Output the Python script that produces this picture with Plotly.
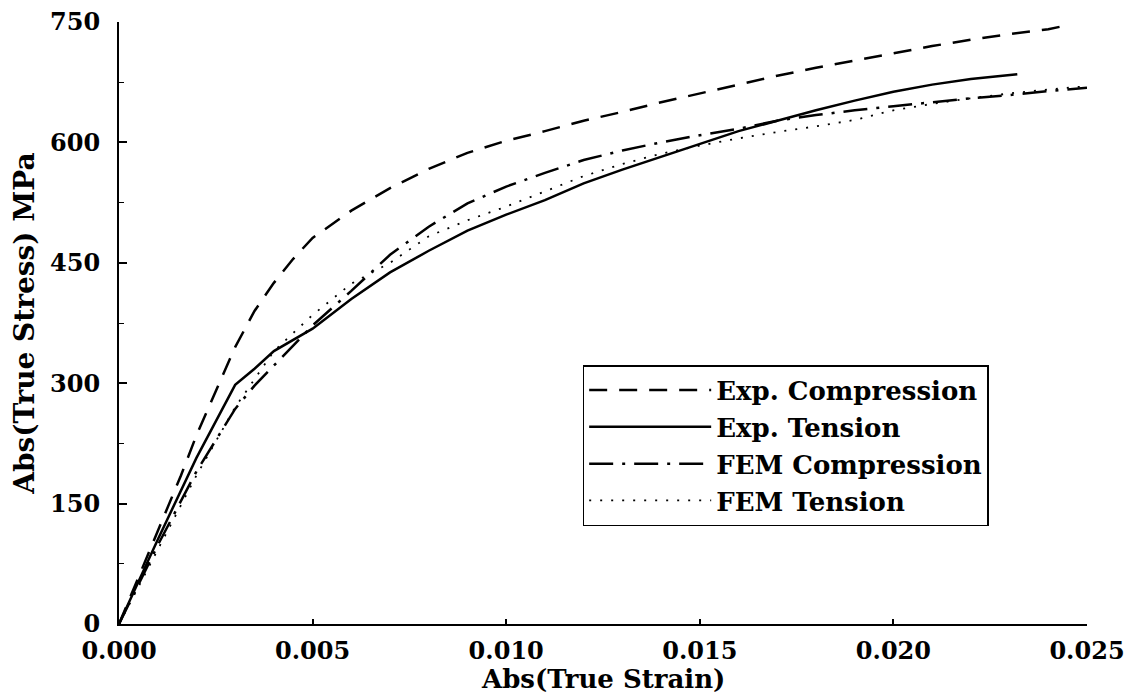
import plotly.graph_objects as go

# Exp. Compression
ec_strain = [0, 0.001, 0.0016, 0.002, 0.0025, 0.003, 0.0035, 0.004, 0.0045, 0.005, 0.006, 0.007, 0.008,
             0.009, 0.010, 0.011, 0.012, 0.013, 0.014, 0.015, 0.016, 0.017, 0.018, 0.019, 0.020,
             0.021, 0.022, 0.023, 0.024, 0.0243]
ec_stress = [0, 115, 185, 235, 290, 345, 390, 425, 455, 481, 515, 543, 567,
             587, 602, 614, 627, 638, 650, 661, 672, 683, 693, 702, 711,
             720, 728, 735, 741, 744]

# Exp. Tension
et_strain = [0, 0.001, 0.002, 0.003, 0.0035, 0.004, 0.005, 0.006, 0.007, 0.008, 0.009, 0.010,
             0.011, 0.012, 0.013, 0.014, 0.015, 0.016, 0.017, 0.018, 0.019, 0.020, 0.021, 0.022, 0.0232]
et_stress = [0, 105, 207, 298, 318, 340, 368, 405, 438, 465, 490, 510,
             528, 549, 566, 582, 598, 614, 627, 640, 652, 663, 672, 679, 685]

# FEM Compression
fc_strain = [0, 0.001, 0.002, 0.003, 0.0035, 0.004, 0.005, 0.006, 0.007, 0.008, 0.009, 0.010,
             0.011, 0.012, 0.013, 0.014, 0.015, 0.016, 0.017, 0.018, 0.019, 0.020, 0.021, 0.022,
             0.023, 0.024, 0.025]
fc_stress = [0, 98, 190, 268, 297, 322, 372, 415, 460, 495, 524, 545,
             562, 578, 590, 600, 609, 617, 627, 634, 640, 645, 650, 655,
             659, 664, 668]

# FEM Tension
ft_strain = [0, 0.001, 0.002, 0.003, 0.004, 0.005, 0.006, 0.007, 0.008, 0.009, 0.010,
             0.011, 0.012, 0.013, 0.014, 0.015, 0.016, 0.017, 0.018, 0.019, 0.020, 0.021, 0.022,
             0.023, 0.024, 0.025]
ft_stress = [0, 92, 185, 270, 340, 385, 424, 450, 483, 503, 520,
             539, 558, 573, 586, 596, 605, 613, 620, 628, 640, 648, 655,
             661, 666, 670]

x_ticks = [0.000, 0.005, 0.010, 0.015, 0.020, 0.025]
x_ticklabels = ["0.000", "0.005", "0.010", "0.015", "0.020", "0.025"]
y_ticks = [0, 150, 300, 450, 600, 750]
y_ticklabels = ["0", "150", "300", "450", "600", "750"]
y_minor_ticks = [75, 225, 375, 525, 675]
x_title = "Abs(True Strain)"
y_title = "Abs(True Stress) MPa"

FONT = "DejaVu Serif"

fig = go.Figure()
fig.add_trace(go.Scatter(x=ec_strain, y=ec_stress, mode="lines", name="Exp. Compression",
                         line=dict(color="black", width=2.5, dash="18px,12px")))
fig.add_trace(go.Scatter(x=et_strain, y=et_stress, mode="lines", name="Exp. Tension",
                         line=dict(color="black", width=2.5)))
fig.add_trace(go.Scatter(x=fc_strain, y=fc_stress, mode="lines", name="FEM Compression",
                         line=dict(color="black", width=2.5, dash="24px,9px,3px,9px")))
fig.add_trace(go.Scatter(x=ft_strain, y=ft_stress, mode="lines", name="FEM Tension",
                         line=dict(color="black", width=1.8, dash="2px,9px")))

# page body has an 8px margin; the figure is sized/offset to compensate
fig.update_layout(
    width=1124, height=692,
    margin=dict(l=111, r=45, t=14, b=76),
    paper_bgcolor="white", plot_bgcolor="white",
    font=dict(family=FONT, size=24, color="black", weight="bold"),
    showlegend=True,
    legend=dict(x=0.479, y=0.43, xanchor="left", yanchor="top",
                bordercolor="black", borderwidth=1.5, bgcolor="white",
                font=dict(family=FONT, size=26, color="black", weight="bold"),
                itemwidth=122, tracegroupgap=0),
    xaxis=dict(range=[0, 0.025], tickvals=x_ticks, ticktext=x_ticklabels,
               automargin=False, ticklabeloverflow="allow",
               showgrid=False, zeroline=False, showline=True, linecolor="black", linewidth=2,
               ticks="inside", ticklen=5, tickwidth=1.5, tickcolor="black",
               ticklabelstandoff=4,
               tickfont=dict(family=FONT, size=24, weight="bold")),
    yaxis=dict(range=[0, 750], tickvals=y_ticks, ticktext=y_ticklabels,
               automargin=False, ticklabeloverflow="allow",
               showgrid=False, zeroline=False, showline=True, linecolor="black", linewidth=2,
               ticks="inside", ticklen=8, tickwidth=1.5, tickcolor="black",
               ticklabelstandoff=12,
               tickfont=dict(family=FONT, size=24, weight="bold"),
               minor=dict(tickvals=y_minor_ticks, ticks="inside",
                          ticklen=5, tickwidth=1.2, tickcolor="black"),
               title=dict(text=y_title, standoff=8,
                          font=dict(family=FONT, size=28, weight="bold"))),
    annotations=[dict(text=x_title, xref="paper", yref="paper", x=0.5, y=0,
                      xanchor="center", yanchor="middle", yshift=-55, showarrow=False,
                      font=dict(family=FONT, size=26, weight="bold", color="black"))],
)

fig.write_html("out.html")
